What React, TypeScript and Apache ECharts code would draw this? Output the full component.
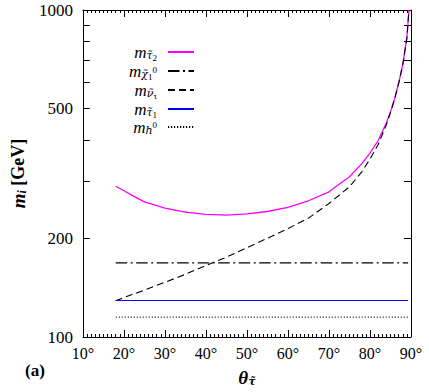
import React, { useEffect, useRef } from "react";
import * as echarts from "echarts";

// mixing angle (degrees) for the curved mass lines
const thetaCurve = [18, 20, 22, 25, 28, 30, 35, 40, 45, 50, 55, 60, 65, 70, 75, 78, 80, 82, 84, 85, 86, 87, 88, 89, 89.5];
// heavy stau mass m_stau2 [GeV]
const mStau2 = [289, 280, 271, 259, 252, 248, 241, 237, 236, 238, 242, 249, 261, 278, 309, 339, 365, 399, 452, 488, 535, 598, 682, 823, 1000];
// tau sneutrino mass [GeV]
const mSneutrino = [129, 132, 134.8, 139, 143.8, 147, 155.5, 165.5, 175.5, 187.5, 200.5, 214.5, 231, 256, 288, 320, 350, 388, 446, 486, 534, 597, 682, 823, 1000];
// end points of the flat lines
const thetaFlat = [18, 89.3];
const mNeutralino = [168.5, 168.5];
const mStau1 = [129.3, 129.3];
const mHiggs = [115, 115];

const yTickValues = [200, 300, 400, 500, 600, 700, 800, 900];
const yLabelValues = [100, 200, 500, 1000];

const SERIF = "Liberation Serif";
const MARK = "DejaVu Serif";

const legendNames = ["stau2", "chi", "snu", "stau1", "h0"];
const legendLabels: Record<string, string> = {
  stau2: "{m|m}{s|τ̃}{ss|2}{g| }",
  chi: "{m|m}{s|χ̃}{ss|1}{sp|0}{g| }",
  snu: "{m|m}{s|ν̃}{ss|τ}{g| }",
  stau1: "{m|m}{s|τ̃}{ss|1}{g| }",
  h0: "{m|m}{s|h}{sp2|0}{g| }",
};

function pairs(xs: number[], ys: number[]) {
  return xs.map((x, i) => [x, ys[i]]);
}

export default function App() {
  const ref = useRef<HTMLDivElement>(null);
  useEffect(() => {
    if (!ref.current) return;
    const chart = echarts.init(ref.current, undefined, { renderer: "svg" });
    const axisLine = { show: true, lineStyle: { color: "#000", width: 1 } };
    const xCommon = {
      type: "value" as const,
      min: 10,
      max: 90,
      interval: 10,
      axisLine,
      axisTick: { show: true, inside: true, length: 7, lineStyle: { color: "#000" } },
      minorTick: { show: true, splitNumber: 10, length: 3, lineStyle: { color: "#000" } },
      splitLine: { show: false },
      minorSplitLine: { show: false },
    };
    const yCommon = {
      type: "log" as const,
      logBase: 10,
      min: 100,
      max: 1000,
      axisLine,
      axisTick: { show: true, inside: true, length: 7, lineStyle: { color: "#000" }, customValues: yTickValues },
      splitLine: { show: false },
      minorTick: { show: false },
    };
    const lineCommon = {
      type: "line" as const,
      symbol: "none",
      smooth: false,
    };
    chart.setOption({
      animation: false,
      backgroundColor: "#fff",
      grid: { left: 80, right: 18, top: 10, bottom: 51, containLabel: false },
      xAxis: [
        {
          ...xCommon,
          position: "bottom",
          axisLabel: {
            show: true,
            formatter: (v: number) => `${v}°`,
            fontFamily: SERIF,
            fontSize: 16,
            color: "#000",
            margin: 8,
          },
          name: "{t|θ}{s|τ̃}",
          nameLocation: "middle",
          nameGap: 30,
          nameTextStyle: {
            rich: {
              t: { fontFamily: SERIF, fontStyle: "italic", fontWeight: "bold", fontSize: 19, color: "#000", lineHeight: 20 },
              s: { fontFamily: MARK, fontStyle: "italic", fontWeight: "bold", fontSize: 11, color: "#000", lineHeight: 12, padding: [9, 0, 0, 0] },
            },
          },
        },
        { ...xCommon, position: "top", axisLabel: { show: false } },
      ],
      yAxis: [
        {
          ...yCommon,
          position: "left",
          axisLabel: {
            show: true,
            customValues: yLabelValues,
            formatter: (v: number) => String(Math.round(v)),
            fontFamily: SERIF,
            fontSize: 17,
            color: "#000",
            margin: 10,
          },
          name: "{m|m}{s|i}{g| [GeV]}",
          nameLocation: "middle",
          nameRotate: 90,
          nameGap: 47,
          nameTextStyle: {
            rich: {
              m: { fontFamily: SERIF, fontStyle: "italic", fontWeight: "bold", fontSize: 19, color: "#000", lineHeight: 20 },
              s: { fontFamily: SERIF, fontStyle: "italic", fontWeight: "bold", fontSize: 12, color: "#000", lineHeight: 12, padding: [8, 0, 0, 0] },
              g: { fontFamily: SERIF, fontWeight: "bold", fontSize: 18, color: "#000", lineHeight: 20 },
            },
          },
        },
        { ...yCommon, position: "right", axisLabel: { show: false } },
      ],
      legend: {
        show: true,
        orient: "vertical",
        align: "right",
        right: 234,
        top: 42,
        itemWidth: 26,
        itemHeight: 10,
        itemGap: -1,
        padding: 0,
        data: legendNames,
        itemStyle: { opacity: 0 },
        formatter: (name: string) => legendLabels[name],
        textStyle: {
          color: "#000",
          rich: {
            m: { fontFamily: SERIF, fontStyle: "italic", fontSize: 17, color: "#000", lineHeight: 19 },
            s: { fontFamily: MARK, fontStyle: "italic", fontSize: 11, color: "#000", lineHeight: 10, padding: [7, 0, 0, 0] },
            ss: { fontFamily: SERIF, fontSize: 9, color: "#000", lineHeight: 8, padding: [11, 0, 0, 0] },
            sp: { fontFamily: SERIF, fontSize: 9, color: "#000", lineHeight: 8, padding: [0, 0, 2, 0] },
            sp2: { fontFamily: SERIF, fontSize: 9, color: "#000", lineHeight: 8, padding: [0, 0, 4, 0] },
            g: { width: 6, lineHeight: 10 },
          },
        },
      },
      series: [
        {
          ...lineCommon,
          name: "stau2",
          data: pairs(thetaCurve, mStau2),
          lineStyle: { color: "#ff00ff", width: 1.3, type: "solid" },
          itemStyle: { color: "#ff00ff" },
        },
        {
          ...lineCommon,
          name: "chi",
          data: pairs(thetaFlat, mNeutralino),
          lineStyle: { color: "#000", width: 1.1, type: [11.5, 3.5, 2, 3.5] },
          itemStyle: { color: "#000" },
        },
        {
          ...lineCommon,
          name: "snu",
          data: pairs(thetaCurve, mSneutrino),
          lineStyle: { color: "#000", width: 1.1, type: [7, 4] },
          itemStyle: { color: "#000" },
        },
        {
          ...lineCommon,
          name: "stau1",
          data: pairs(thetaFlat, mStau1),
          lineStyle: { color: "#0000ff", width: 1.2, type: "solid" },
          itemStyle: { color: "#0000ff" },
        },
        {
          ...lineCommon,
          name: "h0",
          data: pairs(thetaFlat, mHiggs),
          lineStyle: { color: "#000", width: 1, type: [1.2, 1.8] },
          itemStyle: { color: "#000" },
        },
      ],
      graphic: [
        {
          type: "text",
          left: 25,
          top: 362,
          style: { text: "(a)", fontFamily: SERIF, fontWeight: "bold", fontSize: 17, fill: "#000" },
        },
      ],
    });
    return () => chart.dispose();
  }, []);
  return <div ref={ref} style={{ width: 429, height: 392, position: "absolute", left: 0, top: 0 }} />;
}
